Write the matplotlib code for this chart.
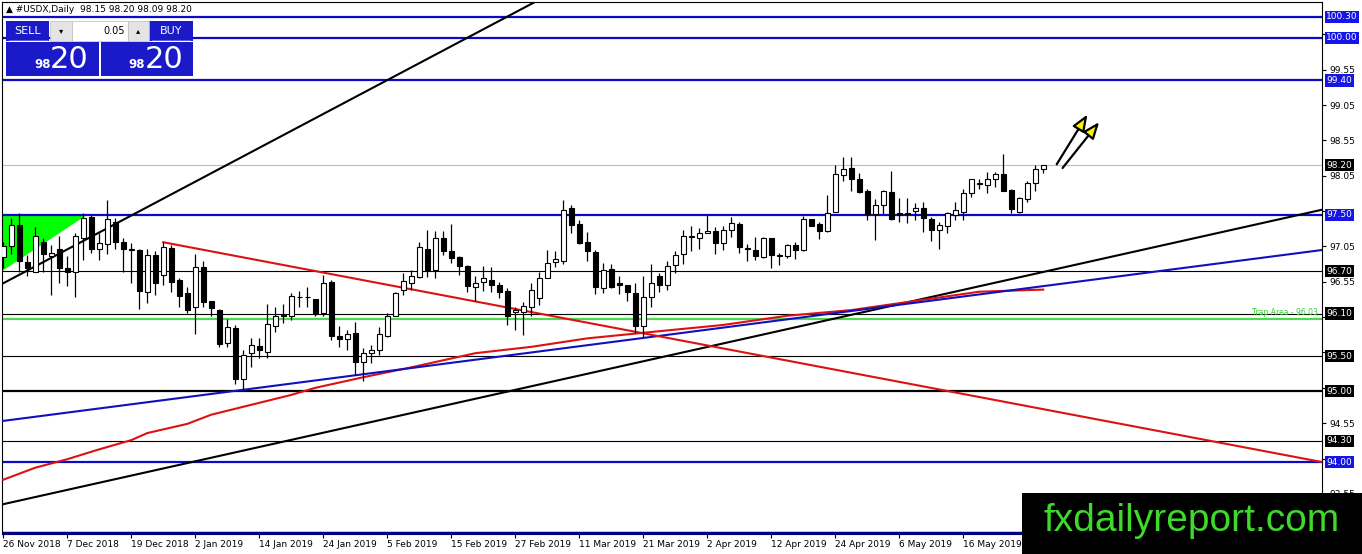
import matplotlib
matplotlib.use("Agg")
import matplotlib.pyplot as plt
from matplotlib.patches import Rectangle

# USDX daily candles (26 Nov 2018 .. end of May 2019)
opens = [96.90, 97.05, 97.36, 96.83, 96.69, 97.11, 96.92, 97.01, 96.75, 96.69,
         97.17, 97.47, 97.02, 97.08, 97.40, 97.11, 97.02, 97.00, 96.41, 96.93,
         96.64, 97.03, 96.58, 96.39, 96.19, 96.76, 96.28, 96.15, 95.68, 95.89,
         95.17, 95.54, 95.64, 95.56, 95.92, 96.07, 96.06, 96.33, 96.33, 96.31,
         96.11, 96.55, 95.78, 95.74, 95.82, 95.42, 95.54, 95.58, 95.79, 96.07,
         96.44, 96.54, 96.62, 97.02, 96.72, 97.17, 96.99, 96.90, 96.77, 96.48,
         96.55, 96.58, 96.51, 96.42, 96.12, 96.13, 96.19, 96.32, 96.61, 96.83,
         96.85, 97.59, 97.37, 97.11, 96.97, 96.46, 96.73, 96.54, 96.51, 96.39,
         95.92, 96.34, 96.63, 96.50, 96.79, 96.94, 97.20, 97.17, 97.24, 97.27,
         97.10, 97.28, 97.37, 97.02, 97.00, 96.90, 97.17, 96.92, 96.91, 97.07,
         97.00, 97.44, 97.37, 97.27, 97.54, 98.06, 98.16, 98.01, 97.84, 97.51,
         97.64, 97.82, 97.53, 97.53, 97.55, 97.60, 97.44, 97.28, 97.34, 97.50,
         97.54, 97.80, 97.94, 97.92, 98.01, 98.08, 97.85, 97.54, 97.72, 97.95,
         98.15]
highs = [97.12, 97.45, 97.53, 96.93, 97.32, 97.17, 97.07, 97.20, 96.91, 97.24,
         97.52, 97.50, 97.24, 97.71, 97.45, 97.17, 97.10, 97.02, 97.02, 96.98,
         97.12, 97.07, 96.61, 96.48, 96.95, 96.84, 96.28, 96.17, 96.03, 95.94,
         95.59, 95.75, 95.75, 96.24, 96.19, 96.24, 96.39, 96.42, 96.47, 96.31,
         96.65, 96.58, 95.92, 95.87, 95.98, 95.61, 95.66, 95.91, 96.11, 96.41,
         96.67, 96.72, 97.12, 97.28, 97.27, 97.27, 97.37, 96.91, 96.79, 96.63,
         96.77, 96.76, 96.55, 96.46, 96.20, 96.27, 96.54, 96.69, 97.00, 96.98,
         97.71, 97.64, 97.43, 97.26, 97.00, 96.81, 96.80, 96.63, 96.51, 96.54,
         96.63, 96.80, 96.68, 96.85, 96.98, 97.29, 97.34, 97.31, 97.50, 97.32,
         97.34, 97.47, 97.39, 97.09, 97.19, 97.19, 97.17, 96.96, 97.09, 97.12,
         97.48, 97.44, 97.40, 97.78, 98.20, 98.32, 98.32, 98.09, 97.87, 97.72,
         97.85, 98.12, 97.73, 97.73, 97.67, 97.68, 97.46, 97.40, 97.54, 97.68,
         97.87, 98.01, 98.01, 98.11, 98.11, 98.36, 97.86, 97.75, 97.97, 98.20,
         98.20]
lows = [96.75, 96.95, 96.69, 96.63, 96.69, 96.69, 96.37, 96.54, 96.49, 96.34,
        96.86, 96.96, 96.86, 96.95, 97.02, 96.69, 96.54, 96.16, 96.25, 96.37,
        96.51, 96.40, 96.20, 96.11, 95.81, 96.20, 96.06, 95.63, 95.63, 95.11,
        95.02, 95.35, 95.47, 95.47, 95.84, 95.97, 96.01, 96.19, 96.19, 96.06,
        96.06, 95.73, 95.63, 95.59, 95.23, 95.15, 95.40, 95.51, 95.77, 96.06,
        96.36, 96.43, 96.61, 96.62, 96.61, 96.93, 96.81, 96.65, 96.41, 96.28,
        96.42, 96.41, 96.32, 95.94, 95.87, 95.80, 96.06, 96.22, 96.60, 96.76,
        96.80, 97.24, 97.09, 96.85, 96.38, 96.39, 96.46, 96.38, 96.28, 95.82,
        95.77, 96.20, 96.41, 96.43, 96.67, 96.80, 96.99, 97.02, 97.24, 96.95,
        97.00, 97.19, 96.96, 96.85, 96.86, 96.88, 96.74, 96.79, 96.89, 96.87,
        96.99, 97.34, 97.15, 97.26, 97.54, 97.97, 97.84, 97.81, 97.43, 97.14,
        97.51, 97.43, 97.40, 97.38, 97.42, 97.25, 97.13, 97.02, 97.24, 97.43,
        97.43, 97.75, 97.86, 97.80, 97.89, 97.83, 97.53, 97.53, 97.68, 97.84,
        98.09]
closes = [97.06, 97.36, 96.84, 96.75, 97.20, 96.94, 96.96, 96.75, 96.69, 97.20,
          97.45, 97.02, 97.10, 97.44, 97.12, 97.01, 97.00, 96.42, 96.93, 96.54,
          97.04, 96.55, 96.35, 96.15, 96.76, 96.26, 96.18, 95.67, 95.91, 95.17,
          95.52, 95.65, 95.58, 95.95, 96.07, 96.08, 96.35, 96.34, 96.34, 96.11,
          96.53, 95.79, 95.74, 95.81, 95.41, 95.54, 95.59, 95.81, 96.07, 96.39,
          96.56, 96.63, 97.04, 96.72, 97.17, 96.99, 96.89, 96.78, 96.49, 96.54,
          96.60, 96.51, 96.41, 96.06, 96.15, 96.21, 96.44, 96.60, 96.81, 96.87,
          97.57, 97.35, 97.10, 96.98, 96.47, 96.72, 96.47, 96.51, 96.40, 95.92,
          96.33, 96.53, 96.51, 96.78, 96.93, 97.20, 97.18, 97.24, 97.27, 97.10,
          97.29, 97.38, 97.04, 97.03, 96.91, 97.17, 96.93, 96.93, 97.07, 97.00,
          97.44, 97.34, 97.27, 97.53, 98.08, 98.14, 98.01, 97.82, 97.51, 97.63,
          97.84, 97.44, 97.50, 97.51, 97.60, 97.45, 97.29, 97.35, 97.52, 97.56,
          97.80, 98.00, 97.95, 98.01, 98.08, 97.84, 97.58, 97.73, 97.95, 98.14,
          98.20]

# date labels every 8 bars
date_pos = [0, 8, 16, 24, 32, 40, 48, 56, 64, 72, 80, 88, 96, 104, 112, 120]
date_labels = ["26 Nov 2018", "7 Dec 2018", "19 Dec 2018", "2 Jan 2019", "14 Jan 2019",
               "24 Jan 2019", "5 Feb 2019", "15 Feb 2019", "27 Feb 2019", "11 Mar 2019",
               "21 Mar 2019", "2 Apr 2019", "12 Apr 2019", "24 Apr 2019", "6 May 2019",
               "16 May 2019"]

# red moving average (read points)
ma_bars = [0, 4, 8, 12, 16, 18, 23, 26, 31, 36, 39, 45, 51, 55, 59, 66, 73, 81, 90, 98, 106, 122, 130]
ma_vals = [93.75, 93.92, 94.04, 94.18, 94.31, 94.41, 94.54, 94.67, 94.81, 94.95, 95.05, 95.20,
           95.34, 95.44, 95.54, 95.63, 95.75, 95.84, 95.94, 96.07, 96.15, 96.41, 96.44]

# horizontal levels
blue_levels = [100.30, 100.00, 99.40, 97.50, 94.00]
black_levels = [96.70, 96.10, 95.50, 94.30]
thick_black_levels = [95.00]
last_price = 98.20
trap_level = 96.03

# trend lines (bar, price) pairs
steep_black = ([0, 80], [96.53, 101.32])
long_black = ([-0.16, 164.84], [93.40, 97.57])
blue_trend = ([-0.16, 164.84], [94.58, 97.00])
red_down = ([20, 164.84], [97.11, 94.00])
green_tri = ([-0.16, 10.5, -0.16], [97.50, 97.50, 96.70])

# right-hand price boxes
box_prices = [100.30, 100.00, 99.40, 98.20, 97.50, 96.70, 96.10, 95.50, 95.00, 94.30, 94.00]
box_colors = ["#1515E6", "#1515E6", "#1515E6", "black", "#1515E6", "black",
              "black", "black", "black", "black", "#1515E6"]
ytick_vals = [93.55, 94.05, 94.55, 95.05, 95.55, 96.05, 96.55, 97.05, 97.55, 98.05,
              98.55, 99.05, 99.55, 100.05]

BLUE = "#0A0AC8"
W, H = 1362, 554

fig = plt.figure(figsize=(W / 100, H / 100), dpi=100)
ax = fig.add_axes([2 / W, (H - 534) / H, 1320 / W, 532 / H])
ax.set_xlim(-0.16, 164.84)
ax.set_ylim(92.982, 100.509)

# levels
for lv in blue_levels:
    ax.axhline(lv, color=BLUE, lw=1.6, zorder=2)
for lv in black_levels:
    ax.axhline(lv, color="black", lw=0.8, zorder=2)
for lv in thick_black_levels:
    ax.axhline(lv, color="black", lw=1.6, zorder=2)
ax.axhline(last_price, color="#BDBDBD", lw=0.8, zorder=1)
ax.axhline(trap_level, color="#4CD94C", lw=1.6, zorder=2)
ax.axhline(93.0, color="#000080", lw=2.5, zorder=2)
ax.text(0.997, trap_level + 0.02, "Trap Area - 96.03", transform=ax.get_yaxis_transform(),
        ha="right", va="bottom", fontsize=5.5, color="#3CCB3C", zorder=3)

ax.fill(green_tri[0], green_tri[1], color="#00FF00", lw=0, zorder=1)

# trend lines
ax.plot(*steep_black, color="black", lw=1.5, zorder=3)
ax.plot(*long_black, color="black", lw=1.5, zorder=3)
ax.plot(ma_bars, ma_vals, color="#DD1111", lw=1.5, zorder=3)
ax.plot(*blue_trend, color="#1010C0", lw=1.5, zorder=3)
ax.plot(*red_down, color="#DD1111", lw=1.5, zorder=3)

# candles
x = list(range(len(opens)))
ax.vlines(x, lows, highs, color="black", lw=0.9, zorder=4)
for i in x:
    o, c = opens[i], closes[i]
    bottom = min(o, c)
    height = max(abs(c - o), 0.004)
    ax.bar(i, height, bottom=bottom, width=0.62, color="white" if c >= o else "black",
           edgecolor="black", linewidth=0.8, zorder=5)

# yellow arrows
for start, tip in [((131.5, 98.18), (135.7, 98.95)), ((132.2, 98.13), (137.2, 98.84))]:
    ax.annotate("", xy=tip, xytext=start,
                arrowprops=dict(arrowstyle="-|>,head_length=1.0,head_width=0.4",
                                lw=1.6, ec="black", fc="#FFF200"), zorder=6)

# axes styling
for s in ax.spines.values():
    s.set_color("black")
    s.set_linewidth(0.8)
ax.spines["bottom"].set_color("#000080")
ax.yaxis.tick_right()
ax.set_yticks(ytick_vals)
# labels sitting under a price box are hidden, as on the terminal
ax.set_yticklabels(["" if min(abs(v - p) for p in box_prices) < 0.12 else f"{v:.2f}"
                    for v in ytick_vals])
ax.tick_params(axis="y", length=3, width=0.8, pad=2, labelsize=6.5)
ax.set_xticks(date_pos)
ax.set_xticklabels(date_labels, ha="left")
ax.tick_params(axis="x", length=3, width=0.8, pad=1, labelsize=6.5)

yt = ax.get_yaxis_transform()
for p, col in zip(box_prices, box_colors):
    ax.annotate(f"{p:.2f}", xy=(1.0, p), xycoords=yt, xytext=(3, 0), textcoords="offset points",
                ha="left", va="center", fontsize=6.5, color="white", zorder=10,
                bbox=dict(boxstyle="square,pad=0.18", fc=col, ec="none"),
                annotation_clip=False)

# overlay: header text, trade panel, watermark (pixel coords)
oa = fig.add_axes([0, 0, 1, 1], zorder=20)
oa.set_xlim(0, W)
oa.set_ylim(H, 0)
oa.axis("off")

oa.text(6, 10, "\u25B2 #USDX,Daily  98.15 98.20 98.09 98.20", fontsize=6.5, va="center", ha="left")

PANEL = "#1A1AC8"
oa.add_patch(Rectangle((6, 21), 43, 20, fc=PANEL, ec="none"))
oa.add_patch(Rectangle((149, 21), 44, 20, fc=PANEL, ec="none"))
oa.add_patch(Rectangle((6, 42), 93, 34, fc=PANEL, ec="none"))
oa.add_patch(Rectangle((101, 42), 92, 34, fc=PANEL, ec="none"))
oa.add_patch(Rectangle((50, 21), 22, 20, fc="#E4E4E4", ec="#BBBBBB", lw=0.5))
oa.add_patch(Rectangle((72, 21), 56, 20, fc="white", ec="#BBBBBB", lw=0.5))
oa.add_patch(Rectangle((128, 21), 21, 20, fc="#E4E4E4", ec="#BBBBBB", lw=0.5))
oa.plot([9, 47], [40, 40], color="#6A6AF0", lw=0.6)
oa.plot([152, 190], [40, 40], color="#6A6AF0", lw=0.6)
oa.text(27.5, 31, "SELL", color="white", fontsize=8, ha="center", va="center")
oa.text(171, 31, "BUY", color="white", fontsize=8, ha="center", va="center")
oa.text(61, 31, "\u25BE", fontsize=6, ha="center", va="center")
oa.text(138.5, 31, "\u25B4", fontsize=6, ha="center", va="center")
oa.text(125, 31, "0.05", fontsize=7, ha="right", va="center")
oa.text(43, 65, "98", color="white", fontsize=8.5, ha="center", va="center", fontweight="bold")
oa.text(69, 59, "20", color="white", fontsize=22, ha="center", va="center")
oa.text(137, 65, "98", color="white", fontsize=8.5, ha="center", va="center", fontweight="bold")
oa.text(164, 59, "20", color="white", fontsize=22, ha="center", va="center")

oa.add_patch(Rectangle((1022, 493), W - 1022, H - 493, fc="black", ec="none"))
oa.text(1192, 521, "fxdailyreport.com", color="#3ED92A", fontsize=28,
        family="Liberation Sans", ha="center", va="center")

fig.savefig("out.png", dpi=100, facecolor="white")
